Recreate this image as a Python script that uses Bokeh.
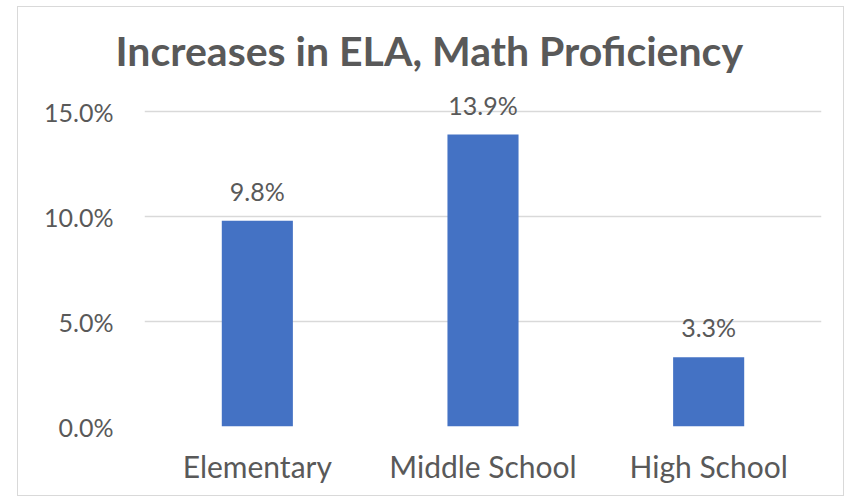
from bokeh.plotting import figure
from bokeh.models import ColumnDataSource, LabelSet, Range1d, FixedTicker, PrintfTickFormatter
from bokeh.core.properties import value
from bokeh.embed import file_html
from bokeh.resources import INLINE

categories = ["Elementary", "Middle School", "High School"]
values = [9.8, 13.9, 3.3]
value_labels = ["9.8%", "13.9%", "3.3%"]
y_ticks = [0, 5, 10, 15]

TEXT = "#595959"
FONT = "Lato"

source = ColumnDataSource(dict(cat=categories, val=values, lab=value_labels))

p = figure(x_range=categories, y_range=Range1d(0, 16), width=827, height=490,
           output_backend="svg", toolbar_location=None,
           min_border_left=126, min_border_right=24, min_border_top=83, min_border_bottom=71)
p.styles = {"border": "1px solid #d9d9d9", "margin-left": "17px", "margin-top": "6px"}

p.vbar(x="cat", top="val", width=0.315, source=source, fill_color="#4472C4", line_color=None)

labels = LabelSet(x="cat", y="val", text="lab", source=source, text_align="center",
                  text_baseline="alphabetic", y_offset=20, text_font=value(FONT),
                  text_font_size="25px", text_color=TEXT)
p.add_layout(labels)

p.title.text = "Increases in ELA, Math Proficiency"
p.title.align = "left"
p.title.offset = -29
p.title.text_font = FONT
p.title.text_font_size = "41px"
p.title.text_font_style = "bold"
p.title.text_color = TEXT
p.title.standoff = 31

p.outline_line_color = None
p.xgrid.grid_line_color = None
p.ygrid.grid_line_color = "#d9d9d9"
p.ygrid.grid_line_width = 1.5

p.yaxis.ticker = FixedTicker(ticks=y_ticks)
p.yaxis.formatter = PrintfTickFormatter(format="%.1f%%")
for ax in (p.xaxis, p.yaxis):
    ax.axis_line_color = None
    ax.major_tick_line_color = None
    ax.minor_tick_line_color = None
    ax.major_label_text_font = FONT
    ax.major_label_text_color = TEXT
p.yaxis.major_label_text_font_size = "25px"
p.xaxis.major_label_text_font_size = "30px"
p.yaxis.major_label_standoff = 25
p.xaxis.major_label_standoff = 15

open("out.html", "w").write(file_html(p, INLINE))
